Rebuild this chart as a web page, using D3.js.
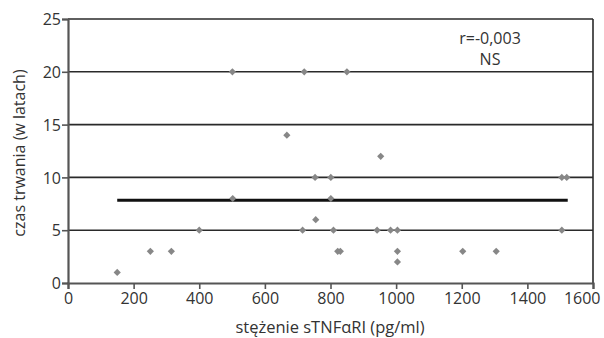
<!DOCTYPE html>
<html>
<head>
<meta charset="utf-8">
<script src="https://cdn.jsdelivr.net/npm/d3@7"></script>
<style>
  body { margin: 0; background: #fff; }
  text { font-family: 'Open Sans', sans-serif; fill: #333; }
</style>
</head>
<body>
<svg id="chart" width="604" height="338"></svg>
<script>
// stężenie sTNFaRI (pg/ml) vs czas trwania (lata)
const concentration = [150, 251, 315, 400, 502, 501, 667, 720, 715, 755, 753, 801, 801, 809, 822, 830, 850, 953, 942, 983, 1004, 1004, 1004, 1203, 1305, 1505, 1520, 1505];
const duration      = [1,   3,   3,   5,   8,   20,  14,  20,  5,   6,   10,  10,  8,   5,   3,   3,   20,  12,  5,   5,   5,    3,    2,    3,    3,    10,   10,   5];
const meanLine = { x: [150, 1523], y: 7.83 };
const xTicks = [0, 200, 400, 600, 800, 1000, 1200, 1400, 1600];
const yTicks = [0, 5, 10, 15, 20, 25];

const margin = { top: 19, right: 11, bottom: 55, left: 68 };
const width = 604 - margin.left - margin.right;
const height = 338 - margin.top - margin.bottom;

const svg = d3.select('#chart')
  .append('g')
  .attr('transform', `translate(${margin.left},${margin.top})`);

const x = d3.scaleLinear().domain([0, 1600]).range([0, width]);
const y = d3.scaleLinear().domain([0, 25]).range([height, 0]);

// horizontal grid lines
svg.selectAll('.grid')
  .data(yTicks.filter(d => d > 0))
  .enter()
  .append('line')
  .attr('x1', 0)
  .attr('x2', width)
  .attr('y1', d => y(d))
  .attr('y2', d => y(d))
  .attr('stroke', '#2a2a2a')
  .attr('stroke-width', 1.6);

// right border
svg.append('line')
  .attr('x1', width).attr('x2', width)
  .attr('y1', 0).attr('y2', height)
  .attr('stroke', '#2a2a2a')
  .attr('stroke-width', 1.6);

const yAxis = svg.append('g')
  .call(d3.axisLeft(y).tickValues(yTicks).tickSize(6).tickPadding(1).tickFormat(d3.format('d')));
const xAxis = svg.append('g')
  .attr('transform', `translate(0,${height})`)
  .call(d3.axisBottom(x).tickValues(xTicks).tickSize(6).tickPadding(4).tickFormat(d3.format('d')));

[xAxis, yAxis].forEach(a => {
  a.select('.domain').attr('stroke', '#555').attr('stroke-width', 2.2);
  a.selectAll('.tick line').attr('stroke', '#555').attr('stroke-width', 1.6);
  a.selectAll('.tick text').style('font-size', '16px').attr('fill', '#333');
});
yAxis.selectAll('.tick text').attr('dy', '0.36em');

// last label pulled in so it stays on the page
xAxis.selectAll('.tick text')
  .filter(d => d === 1600)
  .attr('text-anchor', 'end')
  .attr('x', 7);

// regression line
svg.append('line')
  .attr('x1', x(meanLine.x[0]))
  .attr('x2', x(meanLine.x[1]))
  .attr('y1', y(meanLine.y))
  .attr('y2', y(meanLine.y))
  .attr('stroke', '#111')
  .attr('stroke-width', 3);

// points (square turned 45deg = even diamond)
const marker = d3.symbol().type(d3.symbolSquare).size(26);
svg.selectAll('.pt')
  .data(concentration.map((c, i) => ({ c, d: duration[i] })))
  .enter()
  .append('path')
  .attr('d', marker)
  .attr('transform', d => `translate(${x(d.c)},${y(d.d)}) rotate(45)`)
  .attr('fill', '#878787');

// annotation
svg.append('text')
  .attr('x', 490 - margin.left)
  .attr('y', 44 - margin.top)
  .attr('text-anchor', 'middle')
  .style('font-size', '16px')
  .text('r=-0,003');
svg.append('text')
  .attr('x', 490 - margin.left)
  .attr('y', 65 - margin.top)
  .attr('text-anchor', 'middle')
  .style('font-size', '16px')
  .text('NS');

// axis titles
svg.append('text')
  .attr('x', 330 - margin.left)
  .attr('y', height + 50)
  .attr('text-anchor', 'middle')
  .style('font-size', '16.5px')
  .text('stężenie sTNFαRI (pg/ml)');

svg.append('text')
  .attr('transform', `translate(${-43},${153 - margin.top}) rotate(-90)`)
  .attr('text-anchor', 'middle')
  .style('font-size', '16px')
  .text('czas trwania (w latach)');
</script>
</body>
</html>
